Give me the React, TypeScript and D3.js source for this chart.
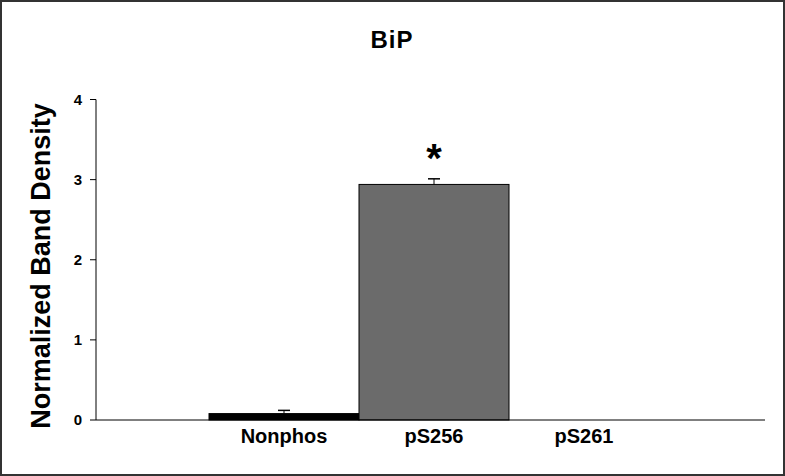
import React from "react";
import * as d3 from "d3";

const categories = ["Nonphos", "pS256", "pS261"];
const values = [0.08, 2.94, 0];
const errors = [0.04, 0.07, 0];
const colors = ["#000000", "#6b6b6b", "#6b6b6b"];
const yTicks = [0, 1, 2, 3, 4];
const significant = [false, true, false];

export default function App() {
  const W = 785, H = 476;
  const axisLeft = 96, axisRight = 765;
  const y = d3.scaleLinear().domain([0, 4]).range([420, 99.5]);
  const x = d3.scaleBand().domain(categories).range([209, 659]).paddingInner(0).paddingOuter(0);
  const font = "Arial, 'Liberation Sans', sans-serif";
  return (
    <svg width={W} height={H} style={{ position: "absolute", left: 0, top: 0 }} fontFamily={font}>
      <rect x={0} y={0} width={W} height={H} fill="#fff" />
      <rect x={1} y={1} width={W - 2} height={H - 2} fill="none" stroke="#333" strokeWidth={2} />
      <text x={392} y={48} textAnchor="middle" fontSize={24} fontWeight="bold" letterSpacing={1}>BiP</text>
      <text transform={`translate(50,266) rotate(-90)`} textAnchor="middle" fontSize={27} fontWeight="bold">Normalized Band Density</text>
      {categories.map((c, i) => {
        const x0 = x(c)!;
        const bw = x.bandwidth();
        const v = values[i];
        if (v <= 0) return null;
        const cx = x0 + bw / 2;
        return (
          <g key={c}>
            <rect x={x0} y={y(v)} width={bw} height={y(0) - y(v)} fill={colors[i]} stroke="#000" strokeWidth={1} />
            <line x1={cx} x2={cx} y1={y(v)} y2={y(v + errors[i])} stroke="#000" strokeWidth={1} />
            <line x1={cx - 6} x2={cx + 6} y1={y(v + errors[i])} y2={y(v + errors[i])} stroke="#000" strokeWidth={1.5} />
            {significant[i] && (
              <text x={cx} y={y(v + errors[i]) - 7} textAnchor="middle" fontSize={40} fontWeight="bold">*</text>
            )}
          </g>
        );
      })}
      <line x1={axisLeft} x2={axisLeft} y1={y(4)} y2={y(0)} stroke="#000" strokeWidth={1} />
      <line x1={axisLeft} x2={axisRight} y1={y(0)} y2={y(0)} stroke="#000" strokeWidth={1} />
      {yTicks.map((t) => (
        <g key={t}>
          <line x1={axisLeft - 6} x2={axisLeft} y1={y(t)} y2={y(t)} stroke="#000" />
          <text x={78} y={y(t)} dy="0.35em" textAnchor="middle" fontSize={15} fontWeight="bold">{t}</text>
        </g>
      ))}
      {categories.map((c) => (
        <text key={c} x={x(c)! + x.bandwidth() / 2} y={443} textAnchor="middle" fontSize={20} fontWeight="bold">{c}</text>
      ))}
    </svg>
  );
}
